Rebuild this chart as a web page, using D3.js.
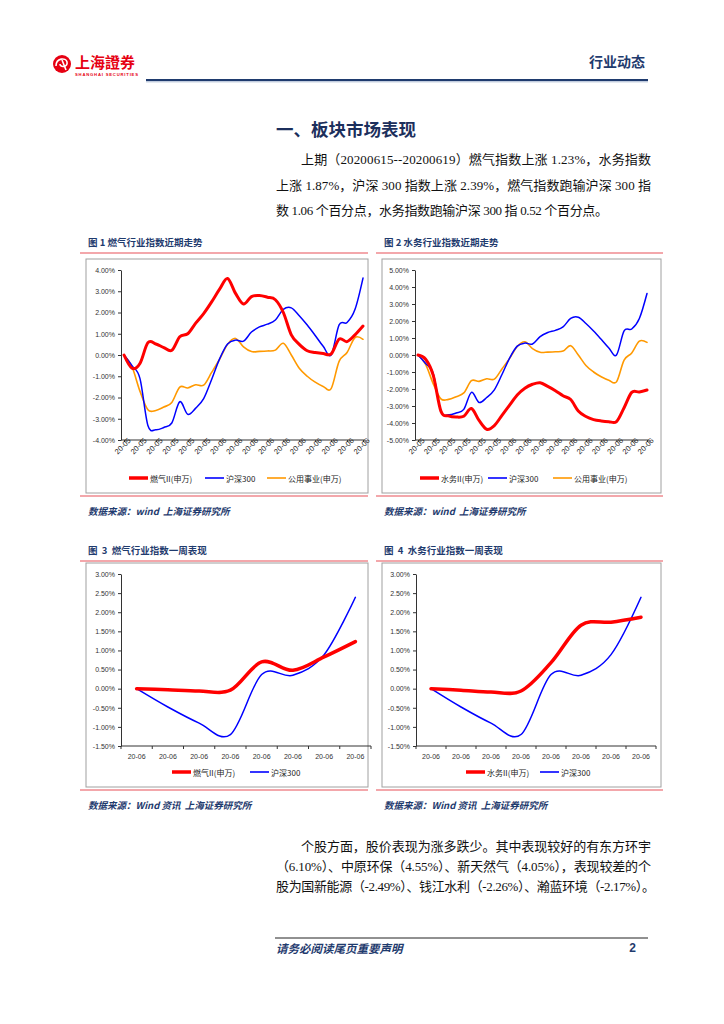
<!DOCTYPE html>
<html>
<head>
<meta charset="utf-8">
<script src="https://cdn.jsdelivr.net/npm/d3@7"></script>
<style>
  html, body { margin: 0; padding: 0; background: #fff; }
  svg { display: block; }
</style>
</head>
<body>
<script>
"use strict";
/******************************** Data ********************************/
// daily dates for the two "近期走势" charts (label shown every 2nd day)
const TREND_DATES = [
  "20-05","20-05","20-05","20-05","20-05","20-05","20-05","20-05","20-05","20-05","20-05","20-05",
  "20-06","20-06","20-06","20-06","20-06","20-06","20-06","20-06","20-06","20-06","20-06","20-06",
  "20-06","20-06","20-06","20-06","20-06","20-06","20-06"
];
// cumulative change, %
const GAS_TREND = [0,-0.62,-0.4,0.58,0.52,0.35,0.22,0.86,1.0,1.5,1.95,2.5,3.1,3.6,2.9,2.4,
  2.75,2.8,2.72,2.6,2.0,0.95,0.5,0.2,0.12,0.07,0.05,0.75,0.63,0.95,1.36];
const WATER_TREND = [0,-0.25,-1.2,-3.3,-3.58,-3.65,-3.6,-3.15,-3.85,-4.37,-4.15,-3.55,-2.95,-2.35,
  -1.95,-1.72,-1.63,-1.85,-2.1,-2.4,-2.62,-3.3,-3.62,-3.8,-3.88,-3.92,-3.92,-3.1,-2.2,-2.18,-2.06];
const HS300_TREND = [0,-0.5,-1.1,-3.32,-3.52,-3.41,-3.2,-2.2,-2.79,-2.5,-2.05,-1.15,-0.18,0.52,
  0.7,0.65,1.08,1.32,1.45,1.65,2.15,2.22,1.85,1.41,0.92,0.41,0.0,1.42,1.53,2.15,3.62];
const UTIL_TREND = [0,-0.55,-1.7,-2.58,-2.61,-2.45,-2.23,-1.51,-1.55,-1.4,-1.42,-0.82,-0.2,0.5,
  0.78,0.38,0.16,0.17,0.19,0.23,0.55,0.0,-0.62,-1.0,-1.28,-1.48,-1.58,-0.3,0.12,0.82,0.74];

// one-week charts
const WEEK_DATES = ["20-06","20-06","20-06","20-06","20-06","20-06","20-06","20-06"];
const GAS_WEEK = [0,-0.03,-0.06,-0.04,0.70,0.48,0.83,1.23];
const WATER_WEEK = [0,-0.04,-0.09,-0.06,0.68,1.66,1.74,1.87];
const HS300_WEEK = [0,-0.48,-0.90,-1.20,0.37,0.35,0.89,2.39];

const TICKS_1 = [-4,-3,-2,-1,0,1,2,3,4];
const TICKS_2 = [-5,-4,-3,-2,-1,0,1,2,3,4,5];
const TICKS_WEEK = [-1.5,-1,-0.5,0,0.5,1,1.5,2,2.5,3];

/******************************** Styles ********************************/
const RED = "#ff0000", BLUE = "#0000ff", ORANGE = "#ff9900";
const NAVY = "#1f3b6e";
const PINK = "#ef8a8f";
const CJK = "'Noto Sans CJK SC', sans-serif";
const BODY_FONT = "'Liberation Serif', 'Noto Sans CJK SC', serif";
const TICK_FONT = "'Liberation Sans', 'Noto Sans CJK SC', sans-serif";

const SVG = d3.select("body").append("svg")
  .attr("width", 724).attr("height", 1024);

/******************************** Page header ********************************/
const head = SVG.append("g");
head.append("circle").attr("cx", 62).attr("cy", 64).attr("r", 9).attr("fill", "#e60012");
head.append("path")
  .attr("d", "M56,66 C56,58 66,57 67,62 C68,67 60,68 60,64 M62,60 L66,70")
  .attr("fill", "none").attr("stroke", "#fff").attr("stroke-width", 1.6);
head.append("text").attr("x", 75).attr("y", 68)
  .attr("font-family", CJK).attr("font-weight", "bold").attr("font-size", 15)
  .attr("fill", "#e60012").text("上海證券");
head.append("text").attr("x", 75).attr("y", 75.5)
  .attr("font-family", TICK_FONT).attr("font-weight", "bold").attr("font-size", 4.2)
  .attr("fill", "#e60012").attr("textLength", 63).text("SHANGHAI SECURITIES");
head.append("text").attr("x", 645).attr("y", 67).attr("text-anchor", "end")
  .attr("font-family", CJK).attr("font-weight", "bold").attr("font-size", 14)
  .attr("fill", NAVY).text("行业动态");
head.append("line").attr("x1", 146).attr("x2", 648).attr("y1", 80).attr("y2", 80)
  .attr("stroke", NAVY).attr("stroke-width", 2.2);
head.append("line").attr("x1", 146).attr("x2", 648).attr("y1", 81.8).attr("y2", 81.8)
  .attr("stroke", "#8fa3c4").attr("stroke-width", 0.8);

/******************************** Body text ********************************/
SVG.append("text").attr("x", 276).attr("y", 128).attr("dominant-baseline", "central")
  .attr("font-family", CJK).attr("font-weight", "bold").attr("font-size", 17.5)
  .attr("fill", "#1c2f5c").text("一、板块市场表现");

function para(lines) {
  lines.forEach(l => {
    const t = SVG.append("text").attr("x", l.x).attr("y", l.y)
      .attr("dominant-baseline", "central")
      .attr("font-family", BODY_FONT).attr("font-size", 13).attr("fill", "#111")
      .text(l.s);
    if (l.w) t.attr("textLength", l.w).attr("lengthAdjust", "spacing");
  });
}
para([
  {x: 301, y: 159, w: 350, s: "上期（20200615--20200619）燃气指数上涨 1.23%，水务指数"},
  {x: 276, y: 185, w: 375, s: "上涨 1.87%，沪深 300 指数上涨 2.39%，燃气指数跑输沪深 300 指"},
  {x: 276, y: 210, w: 332, s: "数 1.06 个百分点，水务指数跑输沪深 300 指 0.52 个百分点。"}
]);
para([
  {x: 301, y: 846, w: 350, s: "个股方面，股价表现为涨多跌少。其中表现较好的有东方环宇"},
  {x: 276, y: 866, w: 375, s: "（6.10%）、中原环保（4.55%）、新天然气（4.05%），表现较差的个"},
  {x: 276, y: 886, w: 379, s: "股为国新能源（-2.49%）、钱江水利（-2.26%）、瀚蓝环境（-2.17%）。"}
]);

/******************************** Footer ********************************/
SVG.append("line").attr("x1", 275).attr("x2", 648).attr("y1", 938).attr("y2", 938)
  .attr("stroke", "#222").attr("stroke-width", 1);
SVG.append("text").attr("x", 276).attr("y", 948).attr("dominant-baseline", "central")
  .attr("font-family", CJK).attr("font-weight", "bold").attr("font-style", "italic")
  .attr("font-size", 11.5).attr("fill", NAVY).text("请务必阅读尾页重要声明");
SVG.append("text").attr("x", 636).attr("y", 948).attr("dominant-baseline", "central")
  .attr("text-anchor", "end").attr("font-family", TICK_FONT).attr("font-weight", "bold")
  .attr("font-size", 12).attr("fill", NAVY).text("2");

/******************************** Figure frames ********************************/
function frame(f) {
  const g = SVG.append("g");
  g.append("text").attr("x", f.x + 2).attr("y", f.capY).attr("dominant-baseline", "central")
    .attr("font-family", CJK).attr("font-weight", "bold").attr("font-size", 9.5)
    .attr("fill", NAVY).attr("xml:space", "preserve").text(f.caption);
  g.append("line").attr("x1", f.ruleX1).attr("x2", f.ruleX2).attr("y1", f.capY + 11).attr("y2", f.capY + 11)
    .attr("stroke", PINK).attr("stroke-width", 1.4);
  g.append("rect").attr("x", f.x).attr("y", f.top).attr("width", f.w).attr("height", f.h)
    .attr("fill", "#fff").attr("stroke", "#a0a0a0").attr("stroke-width", 1);
  g.append("line").attr("x1", f.ruleX1).attr("x2", f.ruleX2).attr("y1", f.top + f.h + 3).attr("y2", f.top + f.h + 3)
    .attr("stroke", PINK).attr("stroke-width", 1.4);
  g.append("text").attr("x", f.x + 2).attr("y", f.top + f.h + 18).attr("dominant-baseline", "central")
    .attr("font-family", CJK).attr("font-weight", "bold").attr("font-style", "italic")
    .attr("font-size", 9.5).attr("fill", NAVY).attr("xml:space", "preserve").text(f.source);
  return g;
}

function yAxis(g, y, x0, ticks) {
  const ax = g.append("g").attr("transform", `translate(${x0},0)`)
    .call(d3.axisLeft(y).tickValues(ticks).tickSize(3).tickSizeOuter(0)
      .tickFormat(d => d.toFixed(2) + "%"));
  ax.select(".domain").attr("stroke", "#333");
  ax.selectAll(".tick line").attr("stroke", "#333");
  ax.selectAll("text").attr("font-family", TICK_FONT).attr("font-size", 7).attr("fill", "#333");
}

function legend(g, items, y) {
  items.forEach(it => {
    g.append("line").attr("x1", it.x).attr("x2", it.x + 19).attr("y1", y).attr("y2", y)
      .attr("stroke", it.color).attr("stroke-width", it.width);
    g.append("text").attr("x", it.x + 21).attr("y", y).attr("dominant-baseline", "central")
      .attr("font-family", CJK).attr("font-size", 8).attr("fill", "#222").text(it.name);
  });
}

// Excel-style smoothing = uniform Catmull-Rom
function series(g, x, y, vals, color, width) {
  const line = d3.line().x((d, i) => x(i)).y(d => y(d)).curve(d3.curveCatmullRom.alpha(0));
  g.append("path").attr("d", line(vals)).attr("fill", "none")
    .attr("stroke", color).attr("stroke-width", width)
    .attr("stroke-linejoin", "round").attr("stroke-linecap", "round");
}

/******************************** Trend charts ********************************/
function trendChart(c) {
  const g = frame(c.frame);
  const idx = d3.range(TREND_DATES.length);
  const x = d3.scalePoint().domain(idx).range([c.x0 + 3, c.x1]);
  const y = d3.scaleLinear().domain(c.domain).range([440, 270]);
  yAxis(g, y, c.x0, c.ticks);
  const xa = g.append("g").attr("transform", "translate(0,440)")
    .call(d3.axisBottom(x).tickValues(idx.filter(i => i % 2 === 0)).tickSize(2).tickSizeOuter(0)
      .tickFormat(i => TREND_DATES[i]));
  xa.select(".domain").attr("d", `M${c.x0},0H${c.x1 + 2}`).attr("stroke", "#333");
  xa.selectAll(".tick line").attr("stroke", "#333");
  xa.selectAll("text").attr("font-family", TICK_FONT).attr("font-size", 7.5).attr("fill", "#222")
    .attr("x", 4).attr("y", 3).attr("dy", "0.35em")
    .attr("transform", "rotate(-45)").attr("text-anchor", "end");
  series(g, x, y, UTIL_TREND, ORANGE, 1.6);
  series(g, x, y, HS300_TREND, BLUE, 1.5);
  series(g, x, y, c.main, RED, 3);
  legend(g, c.legend, 478);
}

trendChart({
  frame: {x: 86, top: 259, w: 282, h: 234, capY: 242, ruleX1: 80, ruleX2: 368,
    caption: "图 1 燃气行业指数近期走势", source: "数据来源：wind  上海证券研究所"},
  x0: 121, x1: 363, domain: [-4, 4], ticks: TICKS_1, main: GAS_TREND,
  legend: [
    {x: 129, color: RED, width: 3.5, name: "燃气II(申万)"},
    {x: 205, color: BLUE, width: 1.6, name: "沪深300"},
    {x: 267, color: ORANGE, width: 1.6, name: "公用事业(申万)"}
  ]
});
trendChart({
  frame: {x: 382, top: 259, w: 279, h: 234, capY: 242, ruleX1: 376, ruleX2: 663,
    caption: "图 2 水务行业指数近期走势", source: "数据来源：wind  上海证券研究所"},
  x0: 415, x1: 647, domain: [-5, 5], ticks: TICKS_2, main: WATER_TREND,
  legend: [
    {x: 420, color: RED, width: 3.5, name: "水务II(申万)"},
    {x: 488, color: BLUE, width: 1.6, name: "沪深300"},
    {x: 553, color: ORANGE, width: 1.6, name: "公用事业(申万)"}
  ]
});

/******************************** Week charts ********************************/
function weekChart(c) {
  const g = frame(c.frame);
  const idx = d3.range(WEEK_DATES.length);
  const band = d3.scaleBand().domain(idx).range([c.x0, c.x1]);
  const x = i => band(i) + band.bandwidth() / 2;
  const y = d3.scaleLinear().domain([-1.5, 3]).range([746, 574]);
  yAxis(g, y, c.x0, TICKS_WEEK);
  const xa = g.append("g").attr("transform", "translate(0,746)");
  xa.append("line").attr("x1", c.x0).attr("x2", c.x1).attr("stroke", "#333");
  xa.selectAll(".tk").data(idx.concat([idx.length])).join("line")
    .attr("x1", i => c.x0 + i * band.bandwidth()).attr("x2", i => c.x0 + i * band.bandwidth())
    .attr("y1", 0).attr("y2", 3).attr("stroke", "#333");
  xa.selectAll(".lb").data(idx).join("text")
    .attr("x", x).attr("y", 10).attr("dominant-baseline", "central").attr("text-anchor", "middle")
    .attr("font-family", TICK_FONT).attr("font-size", 7).attr("fill", "#333")
    .text(i => WEEK_DATES[i]);
  series(g, x, y, HS300_WEEK, BLUE, 1.5);
  series(g, x, y, c.main, RED, 3.5);
  legend(g, c.legend, 772);
}

weekChart({
  frame: {x: 86, top: 563, w: 282, h: 224, capY: 550, ruleX1: 80, ruleX2: 368,
    caption: "图  3  燃气行业指数一周表现", source: "数据来源：Wind 资讯  上海证券研究所"},
  x0: 121, x1: 371, main: GAS_WEEK,
  legend: [
    {x: 172, color: RED, width: 3.5, name: "燃气II(申万)"},
    {x: 250, color: BLUE, width: 1.6, name: "沪深300"}
  ]
});
weekChart({
  frame: {x: 382, top: 563, w: 279, h: 224, capY: 550, ruleX1: 376, ruleX2: 663,
    caption: "图  4  水务行业指数一周表现", source: "数据来源：Wind 资讯  上海证券研究所"},
  x0: 416, x1: 656, main: WATER_WEEK,
  legend: [
    {x: 466, color: RED, width: 3.5, name: "水务II(申万)"},
    {x: 540, color: BLUE, width: 1.6, name: "沪深300"}
  ]
});
</script>
</body>
</html>
